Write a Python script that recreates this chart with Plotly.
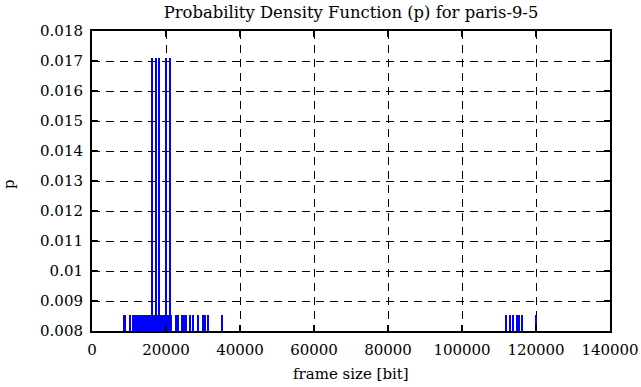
import plotly.graph_objects as go

# frame sizes [bit] and their probability density p
frame_sizes = [8865, 10216, 11150, 11620, 12080, 12510, 12990, 13470, 13900, 14380,
               14850, 15290, 15720, 16162, 16640, 16980, 17297, 17750, 18108, 18560,
               19020, 19480, 19946, 20390, 20810, 21162, 21390,
               22703, 23243, 24324, 24730, 25351, 26486, 27297, 28595, 30000, 30405,
               31297, 35081,
               111838, 112919, 113730, 114865, 115405, 116162, 119946]
p_values = [0.008547, 0.008547, 0.008547, 0.008547, 0.008547, 0.008547, 0.008547, 0.008547, 0.008547, 0.008547,
            0.008547, 0.008547, 0.008547, 0.017094, 0.008547, 0.008547, 0.017094, 0.008547, 0.017094, 0.008547,
            0.008547, 0.008547, 0.017094, 0.008547, 0.008547, 0.017094, 0.008547,
            0.008547, 0.008547, 0.008547, 0.008547, 0.008547, 0.008547, 0.008547, 0.008547, 0.008547, 0.008547,
            0.008547, 0.008547,
            0.008547, 0.008547, 0.008547, 0.008547, 0.008547, 0.008547, 0.008547]

x_ticks = [0, 20000, 40000, 60000, 80000, 100000, 120000, 140000]
y_ticks = [0.008, 0.009, 0.010, 0.011, 0.012, 0.013, 0.014, 0.015, 0.016, 0.017, 0.018]
y_tick_labels = ["0.008", "0.009", "0.01", "0.011", "0.012", "0.013", "0.014",
                 "0.015", "0.016", "0.017", "0.018"]

FONT = "DejaVu Serif"
FS = 15

fig = go.Figure()
fig.add_trace(go.Bar(
    x=frame_sizes, y=p_values, width=540,
    marker=dict(color="#0000ff", line=dict(width=0)),
    showlegend=False, hoverinfo="skip",
))

axis_common = dict(
    showline=True, linewidth=2, linecolor="black", mirror="allticks",
    ticks="inside", ticklen=6, tickwidth=1.5, tickcolor="black",
    showgrid=True, gridcolor="black", gridwidth=1, griddash="8px,6px",
    zeroline=False, automargin=False,
    tickfont=dict(family=FONT, size=FS, color="black"),
)

fig.update_layout(
    width=641, height=387,
    margin=dict(l=92, r=31, t=31, b=56),
    paper_bgcolor="white", plot_bgcolor="white",
    font=dict(family=FONT, size=FS, color="black"),
    title=dict(text="Probability Density Function (p) for paris-9-5",
               xref="paper", x=0.5, xanchor="center",
               yref="container", y=1 - 12 / 387, yanchor="middle",
               font=dict(family=FONT, size=16.4)),
    bargap=0,
    xaxis=dict(range=[0, 140000], tickvals=x_ticks, ticklabelstandoff=4,
               ticktext=[str(v) for v in x_ticks], **axis_common),
    yaxis=dict(range=[0.008, 0.018], tickvals=y_ticks, ticktext=y_tick_labels,
               ticklabelstandoff=4, **axis_common),
    annotations=[
        dict(text="frame size [bit]", xref="paper", yref="paper",
             x=0.5, y=-(374 - 331) / 300, xanchor="center", yanchor="middle",
             showarrow=False, font=dict(family=FONT, size=FS)),
        dict(text="p", xref="paper", yref="paper", textangle=-90,
             x=(9 - 92) / 518, y=(331 - 184) / 300, xanchor="center", yanchor="middle",
             showarrow=False, font=dict(family=FONT, size=FS)),
    ],
)

fig.write_html("out.html", config={"displayModeBar": False},
               post_script="document.body.style.margin='0';document.body.style.overflow='hidden';")
